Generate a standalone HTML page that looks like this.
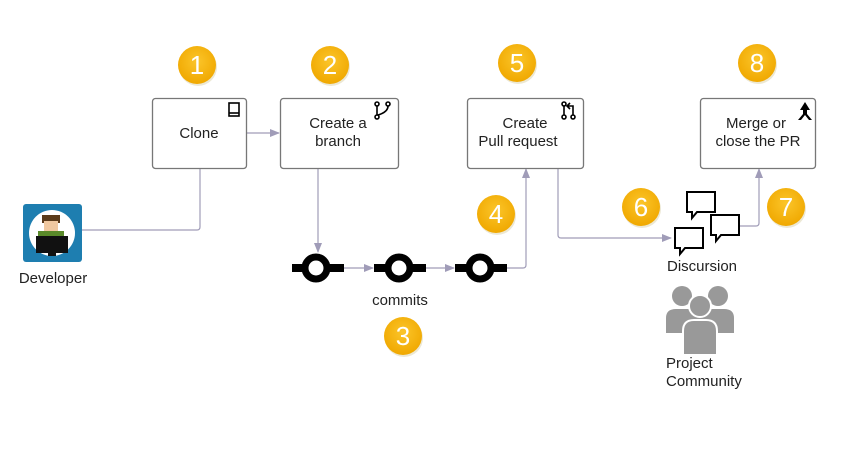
<!DOCTYPE html>
<html><head><meta charset="utf-8"><style>
html,body{margin:0;padding:0;background:#fff;}
svg text{font-family:"Liberation Sans",Arial,sans-serif;}
</style></head><body>
<svg width="850" height="452" viewBox="0 0 850 452" xmlns="http://www.w3.org/2000/svg">
<defs>
<marker id="ar" markerWidth="10" markerHeight="8" refX="9" refY="4" orient="auto" markerUnits="userSpaceOnUse">
<path d="M0,0 L10,4 L0,8 Z" fill="#a09cb8"/></marker>
<radialGradient id="gold" cx="0.5" cy="0.4" r="0.6"><stop offset="0" stop-color="#fbc52a"/><stop offset="1" stop-color="#f0a800"/></radialGradient>
</defs>
<g fill="none" stroke="#a09cb8" stroke-width="1.2">
<path d="M82,230 H197 Q200,230 200,227 V168"/>
<path d="M246,133 H279" marker-end="url(#ar)"/>
<path d="M318,168 V252" marker-end="url(#ar)"/>
<path d="M344,268 H373" marker-end="url(#ar)"/>
<path d="M425,268 H454" marker-end="url(#ar)"/>
<path d="M506,268 H523 Q526,268 526,265 V169" marker-end="url(#ar)"/>
<path d="M558,168 V235 Q558,238 561,238 H671" marker-end="url(#ar)"/>
<path d="M740,226 H756 Q759,226 759,223 V169" marker-end="url(#ar)"/>
</g>
<g fill="#fff" stroke="#777" stroke-width="1.3">
<rect x="152.5" y="98.5" width="94" height="70" rx="3"/>
<rect x="280.5" y="98.5" width="118" height="70" rx="3"/>
<rect x="467.5" y="98.5" width="116" height="70" rx="3"/>
<rect x="700.5" y="98.5" width="115" height="70" rx="3"/>
</g>
<g font-size="15" fill="#222" text-anchor="middle">
<text x="199" y="138">Clone</text>
<text x="338" y="128">Create a</text><text x="338" y="146">branch</text>
<text x="525" y="128">Create</text><text x="518" y="146">Pull request</text>
<text x="756" y="128">Merge or</text><text x="758" y="146">close the PR</text>
</g>
<g stroke="#000" stroke-width="1.6" fill="none">
<rect x="229" y="103" width="10" height="13"/><path d="M229,113 H239"/>
<circle cx="377" cy="104" r="2"/><circle cx="388" cy="104" r="2"/><circle cx="377" cy="117" r="2"/><path d="M377,106 V115 M388,106 Q388,112 378,115"/>
<circle cx="564" cy="104" r="2"/><circle cx="564" cy="117" r="2"/><circle cx="573" cy="117" r="2"/><path d="M564,106 V115 M573,115 V106 H568 M570,103 L567,106 L570,109"/>
</g>
<path d="M805,102 L810,110 H807 V114 L812,120 H809 L805,115 L801,120 H798 L803,114 V110 H800 Z" fill="#000"/>
<g fill="#e0d8b8" opacity="0.6">
<circle cx="198" cy="67" r="19"/><circle cx="331" cy="67" r="19"/><circle cx="518" cy="65" r="19"/><circle cx="758" cy="65" r="19"/>
<circle cx="497" cy="216" r="19"/><circle cx="642" cy="209" r="19"/><circle cx="787" cy="209" r="19"/><circle cx="404" cy="338" r="19"/>
</g>
<g fill="url(#gold)">
<circle cx="197" cy="65" r="19"/><circle cx="330" cy="65" r="19"/><circle cx="517" cy="63" r="19"/><circle cx="757" cy="63" r="19"/>
<circle cx="496" cy="214" r="19"/><circle cx="641" cy="207" r="19"/><circle cx="786" cy="207" r="19"/><circle cx="403" cy="336" r="19"/>
</g>
<g fill="#fff" font-size="26" text-anchor="middle">
<text x="197" y="74">1</text><text x="330" y="74">2</text><text x="517" y="72">5</text><text x="757" y="72">8</text>
<text x="496" y="223">4</text><text x="641" y="216">6</text><text x="786" y="216">7</text><text x="403" y="345">3</text>
</g>
<g>
<rect x="292" y="264" width="52" height="8" fill="#000"/><circle cx="316" cy="268" r="11" fill="#fff" stroke="#000" stroke-width="7"/>
<rect x="374" y="264" width="52" height="8" fill="#000"/><circle cx="399" cy="268" r="11" fill="#fff" stroke="#000" stroke-width="7"/>
<rect x="455" y="264" width="52" height="8" fill="#000"/><circle cx="480" cy="268" r="11" fill="#fff" stroke="#000" stroke-width="7"/>
</g>
<text x="400" y="305" font-size="15" fill="#222" text-anchor="middle">commits</text>
<rect x="23" y="204" width="59" height="58" rx="3" fill="#1e7eb0"/>
<circle cx="52" cy="233" r="23" fill="#fff"/>
<rect x="42" y="215" width="18" height="8" fill="#5a3a1a"/>
<rect x="44" y="221" width="14" height="10" fill="#f0c8a0"/>
<rect x="38" y="231" width="26" height="10" fill="#5a8a2a"/>
<rect x="36" y="236" width="32" height="17" fill="#111"/>
<rect x="48" y="253" width="8" height="3" fill="#111"/>
<text x="53" y="283" font-size="15" fill="#222" text-anchor="middle">Developer</text>
<g fill="#fff" stroke="#000" stroke-width="2">
<path d="M687,192 H715 V212 H697 L692,218 V212 H687 Z"/>
<path d="M711,215 H739 V235 H721 L716,241 V235 H711 Z"/>
<path d="M675,228 H703 V248 H685 L680,254 V248 H675 Z"/>
</g>
<text x="702" y="271" font-size="15" fill="#222" text-anchor="middle">Discursion</text>
<g fill="#999">
<circle cx="682" cy="296" r="10"/><circle cx="718" cy="296" r="10"/>
<path d="M666,333 V318 Q666,309 676,309 H690 Q700,309 700,318 V333 Z"/>
<path d="M700,333 V318 Q700,309 710,309 H724 Q734,309 734,318 V333 Z"/>
<circle cx="700" cy="306" r="11" fill="#999" stroke="#fff" stroke-width="2"/>
<path d="M683,355 V331 Q683,320 694,320 H706 Q717,320 717,331 V355 Z" stroke="#fff" stroke-width="2"/>
</g>
<text x="666" y="368" font-size="15" fill="#222">Project</text>
<text x="666" y="386" font-size="15" fill="#222">Community</text>
</svg>
</body></html>
